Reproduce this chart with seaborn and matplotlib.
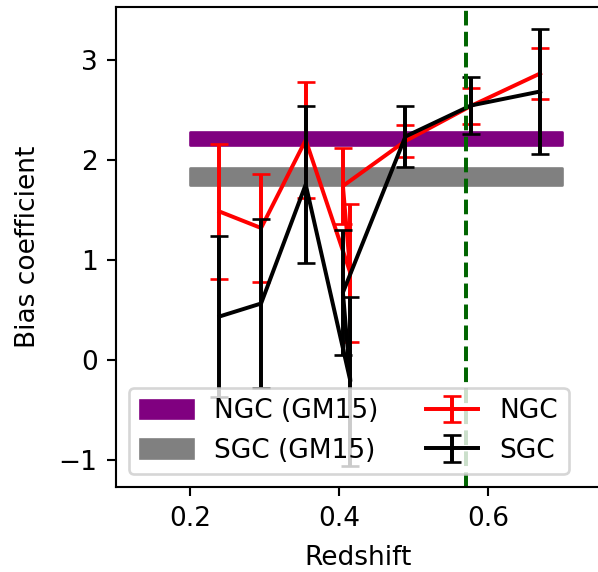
import numpy as np
import pandas as pd
import matplotlib
matplotlib.use("Agg")
import matplotlib.pyplot as plt
import seaborn as sns

# Data
redshift = [0.239, 0.295, 0.355, 0.415, 0.405, 0.489, 0.577, 0.670]
ngc_bias = [1.485, 1.32, 2.20, 0.87, 1.74, 2.19, 2.54, 2.865]
ngc_err = [0.675, 0.54, 0.58, 0.69, 0.38, 0.16, 0.18, 0.255]
sgc_bias = [0.435, 0.565, 1.755, -0.21, 0.675, 2.235, 2.545, 2.685]
sgc_err = [0.805, 0.845, 0.785, 0.845, 0.625, 0.305, 0.285, 0.625]

band_z = [0.2, 0.7]
ngc_gm15 = 2.217
ngc_gm15_err = 0.065
sgc_gm15 = 1.837
sgc_gm15_err = 0.085
z_mark = 0.57

x_ticks = [0.2, 0.4, 0.6]
y_ticks = [-1, 0, 1, 2, 3]

DPI = 190
fig = plt.figure(figsize=(598 / DPI, 572 / DPI), dpi=DPI)
ax = fig.add_axes([116 / 598, (572 - 487.3) / 572, (599.6 - 116) / 598, (487.3 - 6.8) / 572])

band_n = ax.fill_between(band_z, ngc_gm15 - ngc_gm15_err, ngc_gm15 + ngc_gm15_err,
                         color="purple", label="NGC (GM15)")
band_s = ax.fill_between(band_z, sgc_gm15 - sgc_gm15_err, sgc_gm15 + sgc_gm15_err,
                         color="grey", label="SGC (GM15)")

df_n = pd.DataFrame({"z": redshift, "b": ngc_bias})
df_s = pd.DataFrame({"z": redshift, "b": sgc_bias})

sns.lineplot(data=df_n, x="z", y="b", sort=False, color="red", linewidth=1.5,
             estimator=None, ax=ax, legend=False)
line_n = ax.lines[-1]
eb_n = ax.errorbar(redshift, ngc_bias, yerr=ngc_err, fmt="none", ecolor="red",
                   elinewidth=1.5, capsize=3.5)
sns.lineplot(data=df_s, x="z", y="b", sort=False, color="black", linewidth=1.5,
             estimator=None, ax=ax, legend=False)
line_s = ax.lines[-1]
eb_s = ax.errorbar(redshift, sgc_bias, yerr=sgc_err, fmt="none", ecolor="black",
                   elinewidth=1.5, capsize=3.5)

ax.axvline(z_mark, color="darkgreen", linestyle="--", linewidth=1.5)

ax.set_xlim(0.1, 0.75)
ax.set_ylim(-1.273, 3.532)
ax.set_xticks(x_ticks)
ax.set_yticks(y_ticks)
ax.set_xlabel("Redshift", labelpad=5)
ax.set_ylabel("Bias coefficient", labelpad=6.5)

ax.legend([band_n, band_s, (line_n, eb_n), (line_s, eb_s)],
          ["NGC (GM15)", "SGC (GM15)", "NGC", "SGC"],
          loc="lower left", ncol=2, columnspacing=1.8)

fig.savefig("out.png", dpi=DPI)
